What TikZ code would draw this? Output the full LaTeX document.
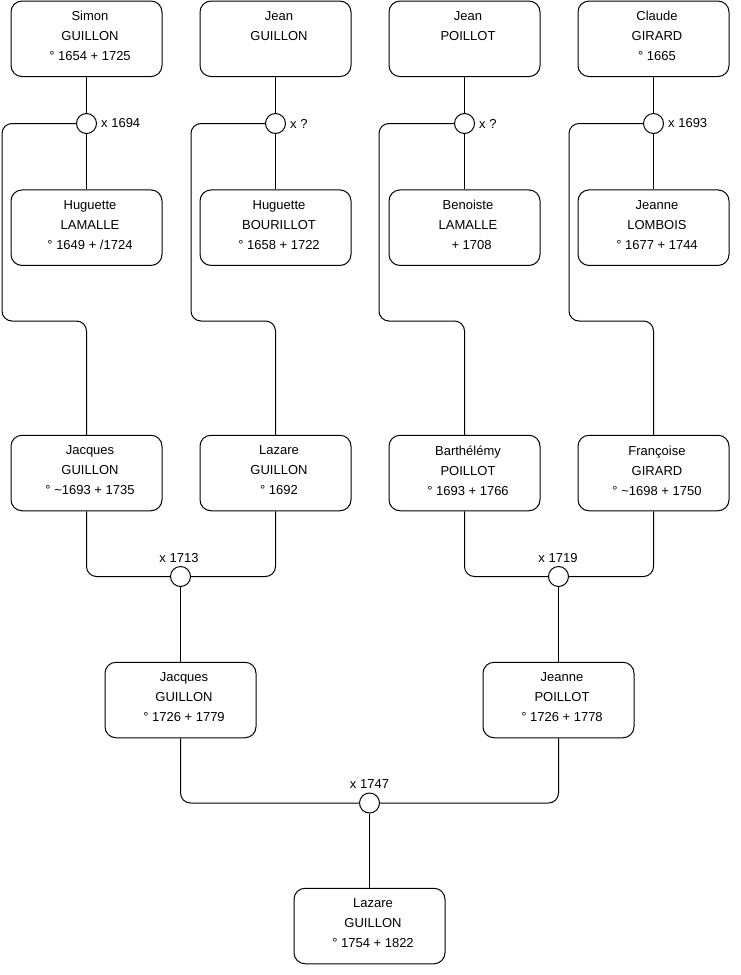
\documentclass[tikz,border=0pt]{standalone}
\usepackage{fontspec}
\setmainfont{Liberation Sans}
\begin{document}
\begin{tikzpicture}[x=1pt,y=-1pt,
  person/.style={draw, rounded corners=11pt, minimum width=151pt, minimum height=75.5pt, inner sep=0pt, line width=1pt},
  boxtext/.style={align=center, font=\fontsize{13}{20}\selectfont, inner sep=0pt, xshift=3.5pt, yshift=2.5pt},
  union/.style={draw, circle, minimum size=20pt, inner sep=0pt, line width=1pt, fill=white},
  ulabel/.style={font=\fontsize{13}{16}\selectfont, inner sep=0pt},
  link/.style={line width=1pt, rounded corners=10pt}]
\fill[white] (0,0) rectangle (740,975);
\useasboundingbox (0,0) rectangle (740,975);

% generation 1
\node[person, label={[boxtext]center:{Simon\\GUILLON\\° 1654 + 1725}}] (simon) at (86.5,38.8) {};
\node[person, label={[boxtext]center:{Jean\\GUILLON\\\mbox{}}}] (jeang) at (275.5,38.8) {};
\node[person, label={[boxtext]center:{Jean\\POILLOT\\\mbox{}}}] (jeanp) at (464.5,38.8) {};
\node[person, label={[boxtext]center:{Claude\\GIRARD\\° 1665}}] (claude) at (653.5,38.8) {};

\node[person, label={[boxtext]center:{Huguette\\LAMALLE\\° 1649 + /1724}}] (huglam) at (86.5,227.7) {};
\node[person, label={[boxtext]center:{Huguette\\BOURILLOT\\° 1658 + 1722}}] (hugbou) at (275.5,227.7) {};
\node[person, label={[boxtext]center:{Benoiste\\LAMALLE\\\ \ + 1708}}] (benoiste) at (464.5,227.7) {};
\node[person, label={[boxtext]center:{Jeanne\\LOMBOIS\\° 1677 + 1744}}] (jeannel) at (653.5,227.7) {};

% unions generation 1
\node[union] (u1) at (86.5,123.5) {};
\node[union] (u2) at (275.5,123.5) {};
\node[union] (u3) at (464.5,123.5) {};
\node[union] (u4) at (653.5,123.5) {};
\node[ulabel, anchor=west] (l1) at ([xshift=4pt]u1.east) {x 1694};
\node[ulabel, anchor=west] (l2) at ([xshift=4pt]u2.east) {x ?};
\node[ulabel, anchor=west] (l3) at ([xshift=4pt]u3.east) {x ?};
\node[ulabel, anchor=west] (l4) at ([xshift=4pt]u4.east) {x 1693};

% generation 2
\node[person, label={[boxtext]center:{Jacques\\GUILLON\\° \textasciitilde 1693 + 1735}}] (jacques1) at (86.5,473) {};
\node[person, label={[boxtext]center:{Lazare\\GUILLON\\° 1692}}] (lazare1) at (275.5,473) {};
\node[person, label={[boxtext]center:{Barthélémy\\POILLOT\\° 1693 + 1766}}] (barth) at (464.5,473) {};
\node[person, label={[boxtext]center:{Françoise\\GIRARD\\° \textasciitilde 1698 + 1750}}] (francoise) at (653.5,473) {};

\node[union] (u5) at (180.5,576.5) {};
\node[union] (u6) at (558.5,576.5) {};
\node[ulabel, anchor=south] (l5) at ([xshift=-1.5pt,yshift=3.5pt]u5.north) {x 1713};
\node[ulabel, anchor=south] (l6) at ([xshift=-0.5pt,yshift=3.5pt]u6.north) {x 1719};

% generation 3
\node[person, label={[boxtext]center:{Jacques\\GUILLON\\° 1726 + 1779}}] (jacques2) at (180.5,700) {};
\node[person, label={[boxtext]center:{Jeanne\\POILLOT\\° 1726 + 1778}}] (jeannep) at (558.5,700) {};

\node[union] (u7) at (369.5,803) {};
\node[ulabel, anchor=south] (l7) at ([yshift=3.5pt]u7.north) {x 1747};

% generation 4
\node[person, label={[boxtext]center:{Lazare\\GUILLON\\° 1754 + 1822}}] (lazare2) at (369.5,926) {};

% connectors
\draw[link] (simon.south) -- (u1.north);
\draw[link] (u1.south) -- (huglam.north);
\draw[link] (jeang.south) -- (u2.north);
\draw[link] (u2.south) -- (hugbou.north);
\draw[link] (jeanp.south) -- (u3.north);
\draw[link] (u3.south) -- (benoiste.north);
\draw[link] (claude.south) -- (u4.north);
\draw[link] (u4.south) -- (jeannel.north);

\draw[link] (u1.west) -| (2,321) -| (jacques1.north);
\draw[link] (u2.west) -| (191,321) -| (lazare1.north);
\draw[link] (u3.west) -| (379,321) -| (barth.north);
\draw[link] (u4.west) -| (569,321) -| (francoise.north);

\draw[link] (jacques1.south) |- (u5.west);
\draw[link] (lazare1.south) |- (u5.east);
\draw[link] (barth.south) |- (u6.west);
\draw[link] (francoise.south) |- (u6.east);

\draw[link] (u5.south) -- (jacques2.north);
\draw[link] (u6.south) -- (jeannep.north);

\draw[link] (jacques2.south) |- (u7.west);
\draw[link] (jeannep.south) |- (u7.east);
\draw[link] (u7.south) -- (lazare2.north);
\end{tikzpicture}
\end{document}
